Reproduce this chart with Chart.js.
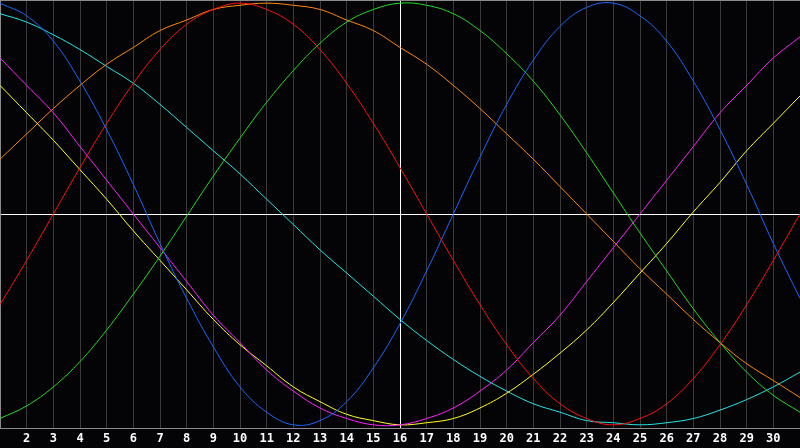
<!DOCTYPE html>
<html>
<head>
<meta charset="utf-8">
<script src="https://cdn.jsdelivr.net/npm/chart.js@4/dist/chart.umd.min.js"></script>
<style>
  html, body { margin: 0; padding: 0; background: #040407; }
  #wrap { width: 800px; height: 448px; position: relative; }
</style>
</head>
<body>
<div id="wrap"><canvas id="chart"></canvas></div>
<script>
const days = [1, 2, 3, 4, 5, 6, 7, 8, 9, 10, 11, 12, 13, 14, 15, 16,
  17, 18, 19, 20, 21, 22, 23, 24, 25, 26, 27, 28, 29, 30, 31];
const todayDay = 16;

// values in percent
const physical = [100, 94, 82, 63, 40, 14, -14, -40, -63, -82, -94, -100, -98, -89, -73, -52,
  -27, 0, 27, 52, 73, 89, 98, 100, 94, 82, 63, 40, 14, -14, -40];
const emotional = [-43, -22, 0, 22, 43, 62, 78, 90, 97, 100, 97, 90, 78, 62, 43, 22,
  0, -22, -43, -62, -78, -90, -97, -100, -97, -90, -78, -62, -43, -22, 0];
const intellectual = [-97, -91, -82, -70, -55, -38, -20, -1, 18, 36, 53, 68, 81, 91, 97, 100,
  99, 95, 87, 76, 63, 47, 29, 10, -9, -27, -45, -61, -75, -86, -94];
const intuitive = [74, 61, 48, 32, 16, 0, -16, -32, -48, -61, -74, -84, -92, -97, -100, -100,
  -97, -92, -84, -74, -61, -48, -32, -16, 0, 16, 32, 48, 61, 74, 84];
const aesthetic = [61, 48, 35, 21, 7, -8, -22, -36, -50, -62, -72, -82, -89, -95, -98, -100,
  -99, -97, -92, -85, -76, -66, -55, -42, -28, -14, 1, 15, 30, 43, 56];
const awareness = [26, 38, 50, 61, 71, 79, 87, 92, 97, 99, 100, 99, 97, 92, 87, 79,
  71, 61, 50, 38, 26, 13, 0, -13, -26, -38, -50, -61, -71, -79, -87];
const spiritual = [95, 91, 85, 78, 70, 62, 52, 41, 30, 19, 7, -5, -17, -28, -39, -50,
  -60, -69, -77, -84, -90, -94, -98, -99, -100, -99, -97, -93, -88, -82, -75];

const series = [
  { label: 'Physical', values: physical, color: '#1a66ff' },
  { label: 'Emotional', values: emotional, color: '#ff1010' },
  { label: 'Intellectual', values: intellectual, color: '#22dd22' },
  { label: 'Intuitive', values: intuitive, color: '#ff22ff' },
  { label: 'Aesthetic', values: aesthetic, color: '#ffff22' },
  { label: 'Awareness', values: awareness, color: '#ff8810' },
  { label: 'Spiritual', values: spiritual, color: '#22e6e6' }
];

const frame = {
  id: 'frame',
  beforeDraw(chart) {
    const { ctx } = chart;
    ctx.save();
    ctx.fillStyle = '#040407';
    ctx.fillRect(0, 0, chart.width, chart.height);
    ctx.restore();
  },
  afterDraw(chart) {
    const { ctx, chartArea } = chart;
    ctx.save();
    ctx.strokeStyle = '#8a8a8a';
    ctx.lineWidth = 1;
    ctx.beginPath();
    ctx.moveTo(chartArea.left, chartArea.top + 0.5);
    ctx.lineTo(chartArea.right, chartArea.top + 0.5);
    ctx.stroke();
    ctx.restore();
  }
};

new Chart(document.getElementById('chart'), {
  type: 'line',
  data: {
    datasets: series.map(s => ({
      label: s.label,
      data: s.values.map((v, i) => ({ x: days[i], y: v })),
      borderColor: s.color,
      borderWidth: 1,
      pointRadius: 0,
      fill: false,
      tension: 0.4
    }))
  },
  options: {
    responsive: true,
    maintainAspectRatio: false,
    animation: false,
    layout: { padding: 0 },
    plugins: {
      legend: { display: false },
      tooltip: { enabled: false }
    },
    scales: {
      x: {
        type: 'linear',
        min: 1,
        max: 31,
        afterFit: (s) => { s.height = 20; s.paddingLeft = 0; s.paddingRight = 0; },
        afterBuildTicks: (s) => { s.ticks = days.map(d => ({ value: d })); },
        ticks: {
          color: '#ffffff',
          padding: 4,
          maxRotation: 0,
          autoSkip: false,
          font: { family: 'DejaVu Sans Mono', size: 12, weight: 'bold' },
          callback: (v) => (v === days[0] || v === days[days.length - 1]) ? '' : String(v)
        },
        grid: {
          drawTicks: false,
          lineWidth: 1,
          color: (c) => {
            const v = c.tick && c.tick.value;
            if (v === todayDay) return '#ffffff';
            if (v === days[0] || v === days[days.length - 1]) return 'rgba(0,0,0,0)';
            return '#3a3a3a';
          }
        },
        border: { display: true, color: '#8a8a8a', width: 1 }
      },
      y: {
        min: -101.5,
        max: 101.5,
        afterFit: (s) => { s.width = 0; s.paddingTop = 0; s.paddingBottom = 0; },
        afterBuildTicks: (s) => { s.ticks = [{ value: 0 }]; },
        ticks: { display: false },
        grid: { drawTicks: false, color: '#ffffff', lineWidth: 1 },
        border: { display: true, color: '#8a8a8a', width: 1 }
      }
    }
  },
  plugins: [frame]
});
</script>
</body>
</html>
